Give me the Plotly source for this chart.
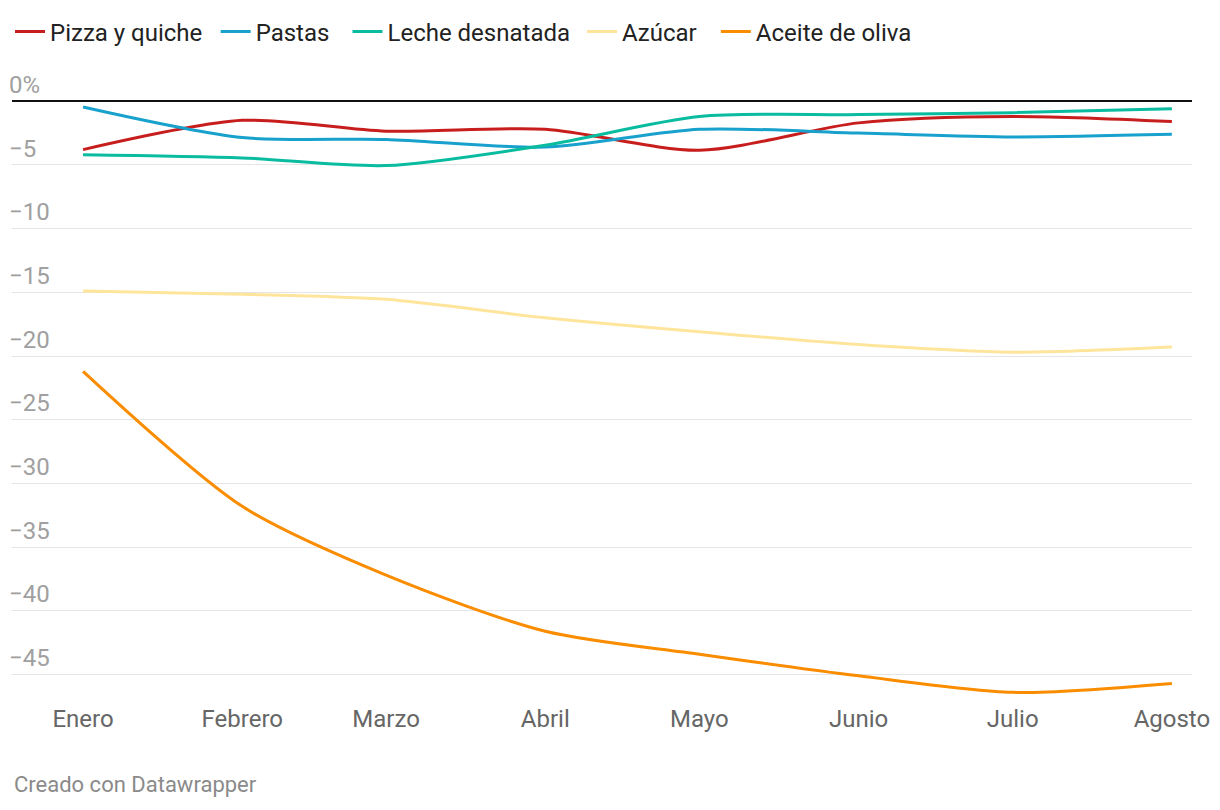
import plotly.graph_objects as go

months = ["Enero", "Febrero", "Marzo", "Abril", "Mayo", "Junio", "Julio", "Agosto"]
dates = ["2023-01-01", "2023-02-01", "2023-03-01", "2023-04-01",
         "2023-05-01", "2023-06-01", "2023-07-01", "2023-08-01"]

pizza = [-3.8, -1.5, -2.35, -2.2, -3.85, -1.7, -1.2, -1.6]
pastas = [-0.45, -2.85, -3.0, -3.6, -2.2, -2.5, -2.8, -2.6]
leche = [-4.2, -4.45, -5.05, -3.45, -1.2, -1.05, -0.9, -0.6]
azucar = [-14.9, -15.15, -15.55, -17.0, -18.1, -19.1, -19.7, -19.3]
aceite = [-21.2, -31.8, -37.2, -41.6, -43.4, -45.1, -46.4, -45.7]

series = [
    ("Pizza y quiche", pizza, "#c71e1d"),
    ("Pastas", pastas, "#18a1cd"),
    ("Leche desnatada", leche, "#09bb9f"),
    ("Azúcar", azucar, "#ffe59c"),
    ("Aceite de oliva", aceite, "#fa8c00"),
]
legend_x = [-0.0017, 0.1726, 0.2843, 0.4831, 0.5965]

ytick_vals = [0, -5, -10, -15, -20, -25, -30, -35, -40, -45]
ytick_text = ["0%", "\u22125", "\u221210", "\u221215", "\u221220", "\u221225",
              "\u221230", "\u221235", "\u221240", "\u221245"]

fig = go.Figure()
legend_layout = {}
for i, (name, vals, color) in enumerate(series):
    lid = "legend" if i == 0 else f"legend{i + 1}"
    fig.add_trace(go.Scatter(
        x=dates, y=vals, name=name, mode="lines", legend=lid,
        line=dict(color=color, width=3, shape="spline", smoothing=0.8),
    ))
    legend_layout[lid] = dict(
        orientation="h", x=legend_x[i], xanchor="left", y=1.0487, yanchor="middle",
        font=dict(size=24, color="#222222"), bgcolor="rgba(0,0,0,0)",
        itemwidth=30, borderwidth=0,
    )

fig.update_layout(
    width=1212, height=802,
    margin=dict(l=2, r=28, t=55, b=110),
    paper_bgcolor="white", plot_bgcolor="white",
    font=dict(family="Roboto", size=24, color="#333333"),
    showlegend=True,
    xaxis=dict(
        type="date",
        range=["2022-12-18 04:00", "2023-08-04 22:00"],
        tickvals=dates, ticktext=months,
        showgrid=False, zeroline=False, showline=False,
        ticks="", ticklabelstandoff=2,
        tickfont=dict(size=24, color="#666666"),
    ),
    yaxis=dict(
        range=[-47.0, 3.0],
        tickvals=ytick_vals, ticktext=ytick_text,
        ticklabelposition="inside top", ticklabelstandoff=-6,
        showgrid=True, gridcolor="#e5e5e5", gridwidth=1,
        zeroline=True, zerolinecolor="#111111", zerolinewidth=2,
        showline=False, ticks="",
        tickfont=dict(size=24, color="#a0a0a0"),
    ),
    annotations=[dict(
        text="Creado con Datawrapper", xref="paper", yref="paper",
        x=0, y=-0.1333, xanchor="left", yanchor="middle", showarrow=False,
        font=dict(size=22, color="#8a8a8a"),
    )],
    **legend_layout,
)

fig.write_html("out.html")
